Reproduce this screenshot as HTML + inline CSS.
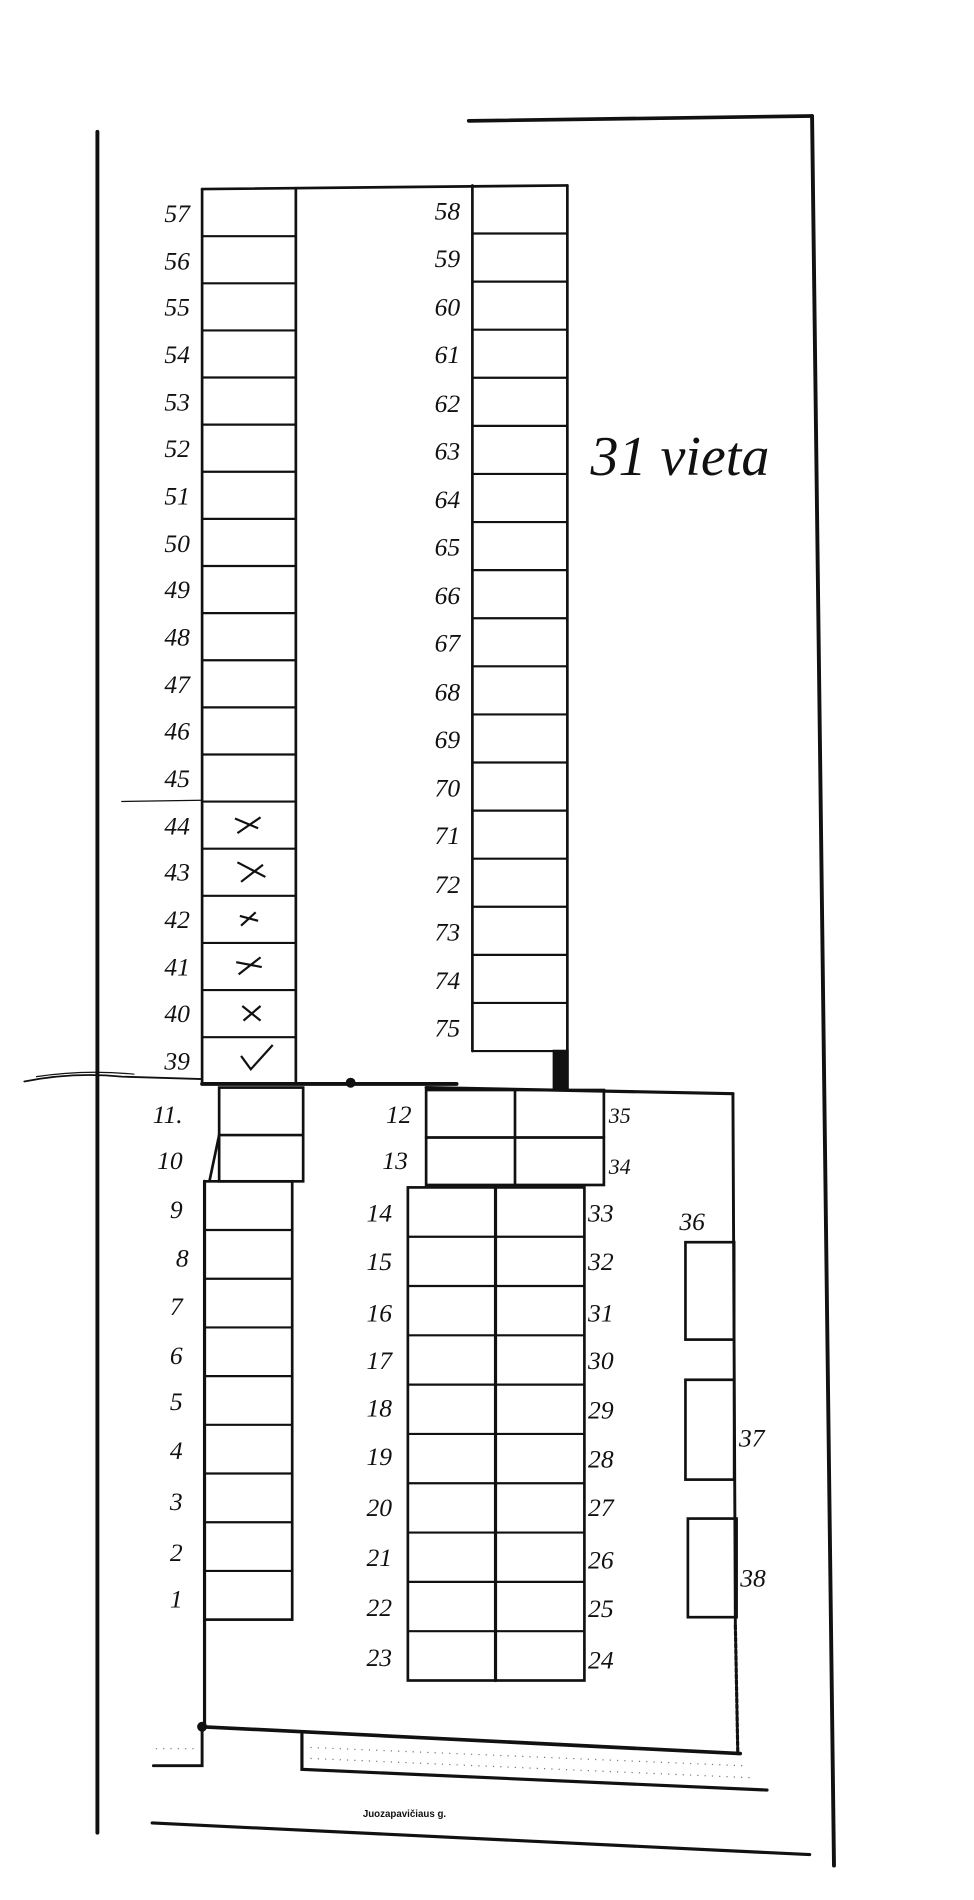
<!DOCTYPE html>
<html><head><meta charset="utf-8"><style>
html,body{margin:0;padding:0;background:#fff;}
svg{display:block}
text{font-family:"Liberation Serif",serif;font-style:italic;fill:#111;font-size:21px}
</style></head><body>
<svg width="974" height="1900" viewBox="0 0 800 1560" xmlns="http://www.w3.org/2000/svg">
<rect width="800" height="1560" fill="#fff"/>
<g stroke="#111" fill="none" stroke-width="2.2" stroke-linecap="round">
<line x1="80" y1="108" x2="80" y2="1505" stroke-width="3.2"/>
<line x1="385" y1="99" x2="667" y2="95" stroke-width="3"/>
<line x1="667" y1="95" x2="685" y2="1532" stroke-width="3.2"/>
<line x1="166" y1="155" x2="466" y2="152"/>
<line x1="166" y1="155" x2="166" y2="890"/>
<line x1="243" y1="155" x2="243" y2="890"/>
<line x1="388" y1="152" x2="388" y2="863"/>
<line x1="466" y1="152" x2="466" y2="895"/>
<rect x="455" y="863" width="11" height="32" fill="#111"/>
<g stroke-width="1.8">
<line x1="166" y1="193.7" x2="243" y2="193.7"/><line x1="166" y1="232.4" x2="243" y2="232.4"/>
<line x1="166" y1="271.1" x2="243" y2="271.1"/><line x1="166" y1="309.8" x2="243" y2="309.8"/>
<line x1="166" y1="348.5" x2="243" y2="348.5"/><line x1="166" y1="387.2" x2="243" y2="387.2"/>
<line x1="166" y1="425.9" x2="243" y2="425.9"/><line x1="166" y1="464.6" x2="243" y2="464.6"/>
<line x1="166" y1="503.3" x2="243" y2="503.3"/><line x1="166" y1="542" x2="243" y2="542"/>
<line x1="166" y1="580.7" x2="243" y2="580.7"/><line x1="166" y1="619.4" x2="243" y2="619.4"/>
<line x1="166" y1="658.1" x2="243" y2="658.1"/><line x1="166" y1="696.8" x2="243" y2="696.8"/>
<line x1="166" y1="735.5" x2="243" y2="735.5"/><line x1="166" y1="774.2" x2="243" y2="774.2"/>
<line x1="166" y1="812.9" x2="243" y2="812.9"/><line x1="166" y1="851.6" x2="243" y2="851.6"/>
<line x1="388" y1="191.5" x2="466" y2="191.5"/><line x1="388" y1="231" x2="466" y2="231"/>
<line x1="388" y1="270.5" x2="466" y2="270.5"/><line x1="388" y1="310" x2="466" y2="310"/>
<line x1="388" y1="349.5" x2="466" y2="349.5"/><line x1="388" y1="389" x2="466" y2="389"/>
<line x1="388" y1="428.5" x2="466" y2="428.5"/><line x1="388" y1="468" x2="466" y2="468"/>
<line x1="388" y1="507.5" x2="466" y2="507.5"/><line x1="388" y1="547" x2="466" y2="547"/>
<line x1="388" y1="586.5" x2="466" y2="586.5"/><line x1="388" y1="626" x2="466" y2="626"/>
<line x1="388" y1="665.5" x2="466" y2="665.5"/><line x1="388" y1="705" x2="466" y2="705"/>
<line x1="388" y1="744.5" x2="466" y2="744.5"/><line x1="388" y1="784" x2="466" y2="784"/>
<line x1="388" y1="823.5" x2="466" y2="823.5"/><line x1="388" y1="863" x2="466" y2="863"/>
</g>
<line x1="100" y1="658" x2="166" y2="657" stroke-width="1"/>
<path d="M20 888 Q60 880 100 884 L166 886" stroke-width="1.5"/>
<path d="M30 884 Q70 878 110 882" stroke-width="1"/>
<line x1="166" y1="890" x2="375" y2="890" stroke-width="3.2"/>
<line x1="350" y1="893" x2="602" y2="898" stroke-width="2.6"/>
<circle cx="288" cy="889" r="3" fill="#111"/>
<rect x="180" y="893" width="69" height="77"/>
<line x1="180" y1="932" x2="249" y2="932"/>
<line x1="180" y1="932" x2="172" y2="970"/>
<line x1="168" y1="970" x2="168" y2="1418" stroke-width="2.6"/>
<rect x="168" y="970" width="72" height="360"/>
<g stroke-width="1.8">
<line x1="168" y1="1010" x2="240" y2="1010"/><line x1="168" y1="1050" x2="240" y2="1050"/>
<line x1="168" y1="1090" x2="240" y2="1090"/><line x1="168" y1="1130" x2="240" y2="1130"/>
<line x1="168" y1="1170" x2="240" y2="1170"/><line x1="168" y1="1210" x2="240" y2="1210"/>
<line x1="168" y1="1250" x2="240" y2="1250"/><line x1="168" y1="1290" x2="240" y2="1290"/>
</g>
<rect x="350" y="895" width="146" height="78"/>
<line x1="350" y1="934" x2="496" y2="934"/>
<line x1="423" y1="895" x2="423" y2="973"/>
<rect x="335" y="975" width="145" height="405"/>
<line x1="407" y1="975" x2="407" y2="1380" stroke-width="2.6"/>
<g stroke-width="1.8">
<line x1="335" y1="1015.5" x2="480" y2="1015.5"/><line x1="335" y1="1056" x2="480" y2="1056"/>
<line x1="335" y1="1096.5" x2="480" y2="1096.5"/><line x1="335" y1="1137" x2="480" y2="1137"/>
<line x1="335" y1="1177.5" x2="480" y2="1177.5"/><line x1="335" y1="1218" x2="480" y2="1218"/>
<line x1="335" y1="1258.5" x2="480" y2="1258.5"/><line x1="335" y1="1299" x2="480" y2="1299"/>
<line x1="335" y1="1339.5" x2="480" y2="1339.5"/>
</g>
<line x1="602" y1="898" x2="604" y2="1335" stroke-width="2.4"/>
<line x1="604" y1="1335" x2="606" y2="1440" stroke-width="2.6" stroke-dasharray="3 2"/>
<rect x="563" y="1020" width="40" height="80"/>
<rect x="563" y="1133" width="40" height="82"/>
<rect x="565" y="1247" width="40" height="81"/>
<line x1="166" y1="1418" x2="608" y2="1440" stroke-width="3"/>
<circle cx="166" cy="1418" r="3" fill="#111"/>
<path d="M126 1450 L166 1450 L166 1418" stroke-width="2.4"/>
<path d="M248 1424 L248 1453 L630 1470" stroke-width="2.6"/>
<line x1="125" y1="1497" x2="665" y2="1523" stroke-width="2.6"/>
</g>
<g stroke="#777" stroke-width="1" stroke-dasharray="1 5">
<line x1="128" y1="1436" x2="160" y2="1436"/>
<line x1="255" y1="1435" x2="610" y2="1450"/>
<line x1="255" y1="1444" x2="620" y2="1460"/>
</g>
<g stroke="#111" stroke-width="1.8" fill="none">
<path d="M193 672 L212 680 M195 684 L214 671"/>
<path d="M195 708 L218 720 M198 724 L216 710"/>
<path d="M197 752 L212 756 M198 760 L210 749"/>
<path d="M194 790 L215 794 M196 800 L214 786"/>
<path d="M199 826 L214 838 M200 838 L214 826"/>
<path d="M198 867 L206 878 L224 858"/>
</g>
<g text-anchor="end">
<text x="156" y="182">57</text><text x="156" y="221">56</text><text x="156" y="259">55</text>
<text x="156" y="298">54</text><text x="156" y="337">53</text><text x="156" y="375">52</text>
<text x="156" y="414">51</text><text x="156" y="453">50</text><text x="156" y="491">49</text>
<text x="156" y="530">48</text><text x="156" y="569">47</text><text x="156" y="607">46</text>
<text x="156" y="646">45</text><text x="156" y="685">44</text><text x="156" y="723">43</text>
<text x="156" y="762">42</text><text x="156" y="801">41</text><text x="156" y="839">40</text>
<text x="156" y="878">39</text>
<text x="378" y="180">58</text><text x="378" y="219">59</text><text x="378" y="259">60</text>
<text x="378" y="298">61</text><text x="378" y="338">62</text><text x="378" y="377">63</text>
<text x="378" y="417">64</text><text x="378" y="456">65</text><text x="378" y="496">66</text>
<text x="378" y="535">67</text><text x="378" y="575">68</text><text x="378" y="614">69</text>
<text x="378" y="654">70</text><text x="378" y="693">71</text><text x="378" y="733">72</text>
<text x="378" y="772">73</text><text x="378" y="812">74</text><text x="378" y="851">75</text>
<text x="150" y="922">11.</text><text x="150" y="960">10</text>
<text x="150" y="1000">9</text><text x="155" y="1040">8</text><text x="150" y="1080">7</text>
<text x="150" y="1120">6</text><text x="150" y="1158">5</text><text x="150" y="1198">4</text>
<text x="150" y="1240">3</text><text x="150" y="1282">2</text><text x="150" y="1320">1</text>
<text x="338" y="922">12</text><text x="335" y="960">13</text>
<text x="322" y="1003">14</text><text x="322" y="1043">15</text><text x="322" y="1085">16</text>
<text x="322" y="1124">17</text><text x="322" y="1163">18</text><text x="322" y="1203">19</text>
<text x="322" y="1245">20</text><text x="322" y="1286">21</text><text x="322" y="1327">22</text>
<text x="322" y="1368">23</text>
</g>
<g>
<text x="500" y="922" style="font-size:18px">35</text><text x="500" y="964" style="font-size:18px">34</text>
<text x="483" y="1003">33</text><text x="483" y="1043">32</text><text x="483" y="1085">31</text>
<text x="483" y="1124">30</text><text x="483" y="1165">29</text><text x="483" y="1205">28</text>
<text x="483" y="1245">27</text><text x="483" y="1288">26</text><text x="483" y="1328">25</text>
<text x="483" y="1370">24</text>
<text x="558" y="1010">36</text><text x="607" y="1188">37</text><text x="608" y="1303">38</text>
<text x="485" y="390" style="font-size:46px">31 vieta</text>
<text x="298" y="1492" style="font-size:8px;font-style:normal;font-weight:bold;font-family:'Liberation Sans',sans-serif">Juozapavičiaus g.</text>
</g>
</svg>
</body></html>
